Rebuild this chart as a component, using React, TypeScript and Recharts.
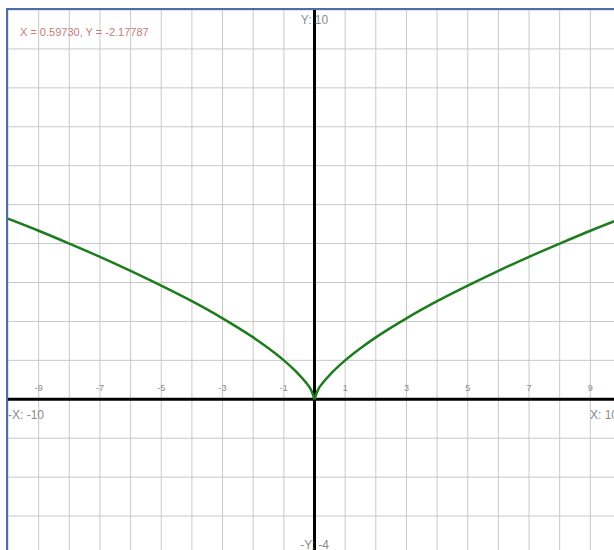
import React from "react";
import {
  LineChart,
  Line,
  XAxis,
  YAxis,
  CartesianGrid,
  ReferenceLine,
  ReferenceDot
} from "recharts";

const xGrid = [-10, -9, -8, -7, -6, -5, -4, -3, -2, -1, 0, 1, 2, 3, 4, 5, 6, 7, 8, 9, 10];
const yGrid = [-4, -3, -2, -1, 0, 1, 2, 3, 4, 5, 6, 7, 8, 9, 10];
const tickLabels = [-9, -7, -5, -3, -1, 1, 3, 5, 7, 9];

// curve, left and right branch of the cusp
const leftX = [-10, -9, -8, -7, -6, -5, -4, -3, -2, -1.5, -1, -0.6, -0.3, -0.1, 0];
const leftY = [4.64, 4.33, 4.0, 3.66, 3.3, 2.92, 2.52, 2.08, 1.59, 1.31, 1.0, 0.71, 0.45, 0.22, 0];
const rightX = [0, 0.1, 0.3, 0.6, 1, 1.5, 2, 3, 4, 5, 6, 7, 8, 9, 10];
const rightY = [0, 0.22, 0.45, 0.71, 1.0, 1.31, 1.59, 2.08, 2.52, 2.92, 3.3, 3.66, 4.0, 4.33, 4.64];

const cursorText = "X = 0.59730, Y = -2.17787";

const leftData = leftX.map((x, i) => ({ x, y: leftY[i] }));
const rightData = rightX.map((x, i) => ({ x, y: rightY[i] }));

const FONT = "'Liberation Sans', Arial, sans-serif";

function textShape(text: string, dx: number, dy: number, anchor: string, size: number) {
  return (p: any) => (
    <text
      x={p.cx + dx}
      y={p.cy + dy}
      textAnchor={anchor}
      fill="#8a8a8a"
      fontSize={size}
      fontFamily={FONT}
    >
      {text}
    </text>
  );
}

export default function App() {
  return (
    <div
      style={{
        position: "absolute",
        left: 6,
        top: 8,
        width: 608,
        height: 542,
        overflow: "hidden",
        borderLeft: "2px solid #4a6fa8",
        borderTop: "2px solid #4a6fa8",
        boxSizing: "border-box",
        background: "#fff"
      }}
    >
      <LineChart
        width={613}
        height={545}
        margin={{ top: 0, right: 0, bottom: 0, left: 0 }}
      >
        <XAxis type="number" dataKey="x" domain={[-10, 10]} ticks={xGrid} hide allowDataOverflow />
        <YAxis type="number" dataKey="y" domain={[-4, 10]} ticks={yGrid} hide allowDataOverflow />
        <CartesianGrid stroke="#c8c8c8" strokeWidth={1} />
        <ReferenceLine x={0} stroke="#000" strokeWidth={3} />
        <ReferenceLine y={0} stroke="#000" strokeWidth={3} />
        {tickLabels.map((v) => (
          <ReferenceDot
            key={v}
            x={v}
            y={0}
            r={0}
            ifOverflow="visible"
            shape={textShape(String(v), 0, -8, "middle", 9)}
          />
        ))}
        <ReferenceDot x={-10} y={0} r={0} ifOverflow="visible" shape={textShape("-X: -10", 0, 20, "start", 12)} />
        <ReferenceDot x={10} y={0} r={0} ifOverflow="visible" shape={textShape("X: 10", -31, 20, "start", 12)} />
        <ReferenceDot x={0} y={10} r={0} ifOverflow="visible" shape={textShape("Y: 10", 0, 14, "middle", 12)} />
        <ReferenceDot x={0} y={-4} r={0} ifOverflow="visible" shape={textShape("-Y: -4", 0, -6, "middle", 12)} />
        <Line
          data={leftData}
          dataKey="y"
          type="monotone"
          stroke="#1e7b1e"
          strokeWidth={2.5}
          dot={false}
          isAnimationActive={false}
        />
        <Line
          data={rightData}
          dataKey="y"
          type="monotone"
          stroke="#1e7b1e"
          strokeWidth={2.5}
          dot={false}
          isAnimationActive={false}
        />
      </LineChart>
      <div
        style={{
          position: "absolute",
          left: 12,
          top: 16,
          fontFamily: FONT,
          fontSize: 11,
          color: "#c77a7a",
          whiteSpace: "nowrap"
        }}
      >
        {cursorText}
      </div>
    </div>
  );
}
